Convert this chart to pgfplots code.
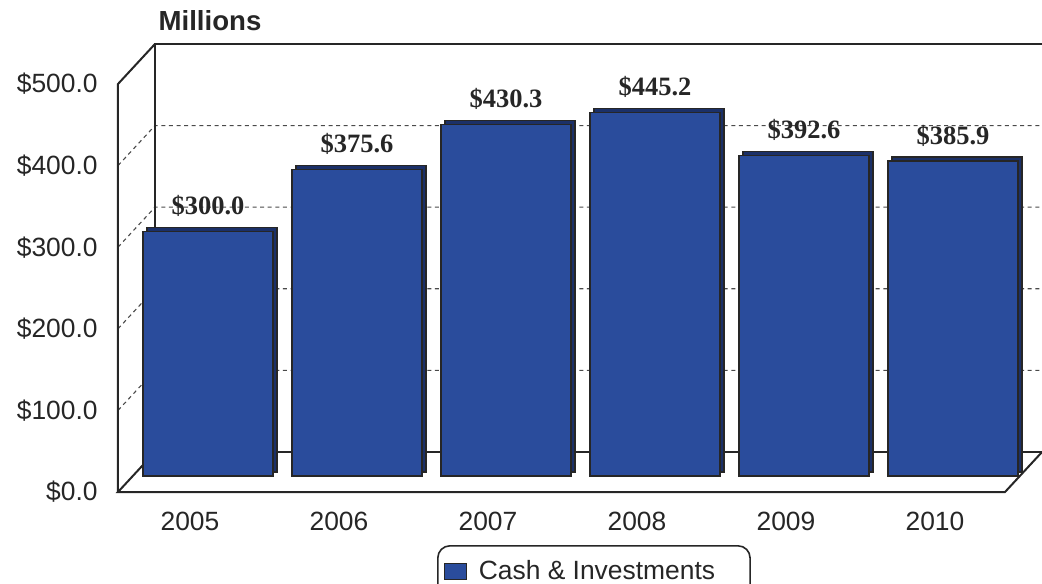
\documentclass[border=0pt]{standalone}
\usepackage{pgfplots}
\pgfplotsset{compat=1.18}
\usepackage{fontspec}
\setmainfont{Liberation Sans}
\newfontfamily\tnr{Liberation Serif}
\definecolor{barblue}{HTML}{2A4C9C}
\definecolor{bardark}{HTML}{1B3068}
\definecolor{framec}{HTML}{262626}
\definecolor{gridc}{HTML}{4A4A4A}
\begin{document}
\begin{tikzpicture}
\useasboundingbox (0,0) rectangle (521pt,291.5pt);
\clip (0,0) rectangle (521pt,291.5pt);
\pgfplotsset{
  common/.style={
    x=74.5pt, y=0.408pt,
    xmin=-0.4832, xmax=5.47, ymin=0, ymax=500,
    clip=false,
  }
}
% ---------- frame / walls / labels ----------
\begin{axis}[common,
  at={(59pt,45.5pt)}, anchor=south west,
  axis line style={draw=none}, tick style={draw=none},
  ytick={0,100,200,300,400,500},
  yticklabels={\$0.0,\$100.0,\$200.0,\$300.0,\$400.0,\$500.0},
  xtick={0,1,2,3,4,5},
  xticklabels={2005,2006,2007,2008,2009,2010},
  yticklabel style={inner sep=0pt, anchor=east, xshift=-10pt, font=\fontsize{13.2}{15}\selectfont, text=black!85},
  xticklabel style={inner sep=0pt, anchor=north, yshift=-10pt, font=\fontsize{13.2}{15}\selectfont, text=black!85},
  legend style={at={(axis cs:1.658,-65)}, anchor=north west, rounded corners=6pt,
    draw=framec, line width=0.8pt, font=\fontsize{13.2}{15}\selectfont, text=black!85,
    inner xsep=1.5pt, inner ysep=5.5pt},
]
\addlegendimage{legend image code/.code={\path[draw=none,fill=none] (0pt,0pt) -- (17pt,0pt);\draw[sharp corners,fill=barblue,draw=black!85,line width=0.5pt] (2pt,-4pt) rectangle (13pt,4pt);}}
\addlegendentry{Cash \& Investments\rule{14pt}{0pt}}
% dashed gridlines (side wall + back wall)
\foreach \v in {100,200,300,400}{
  \edef\temp{\noexpand\draw[gridc, line width=0.55pt, dash pattern=on 2pt off 1.8pt]
    (axis cs:-0.4832,\v) -- ([shift={(18.5pt,20pt)}]axis cs:-0.4832,\v) -- ([shift={(18.5pt,20pt)}]axis cs:5.7,\v);}
  \temp
}
% back wall and floor
\draw[framec, line width=1pt]
  ([shift={(18.5pt,20pt)}]axis cs:5.7,0) -- ([shift={(18.5pt,20pt)}]axis cs:-0.4832,0)
  -- ([shift={(18.5pt,20pt)}]axis cs:-0.4832,500) -- ([shift={(18.5pt,20pt)}]axis cs:5.7,500);
\draw[framec, line width=1pt]
  ([shift={(18.5pt,20pt)}]axis cs:-0.4832,0) -- (axis cs:-0.4832,0) -- (axis cs:5.47,0)
  -- ([shift={(18.5pt,20pt)}]axis cs:5.47,0);
\draw[framec, line width=1pt]
  (axis cs:-0.4832,0) -- (axis cs:-0.4832,500) -- ([shift={(18.5pt,20pt)}]axis cs:-0.4832,500);
\node[font=\bfseries\fontsize{13.8}{16}\selectfont, text=black!85] at (axis cs:0.134,578) {Millions};
\end{axis}
% ---------- bar depth (side/top faces) ----------
\begin{axis}[common, at={(70pt,55.5pt)}, anchor=south west, hide axis]
\addplot[ybar, bar width=65pt, fill=bardark, draw=framec, line width=0.6pt]
  coordinates {(0,300.0) (1,375.6) (2,430.3) (3,445.2) (4,392.6) (5,385.9)};
\end{axis}
% ---------- bar fronts ----------
\begin{axis}[common, at={(68pt,53.5pt)}, anchor=south west, hide axis]
\addplot[ybar, bar width=65pt, fill=barblue, draw=framec, line width=0.6pt,
  point meta=explicit symbolic,
  nodes near coords={\$\pgfplotspointmeta},
  every node near coord/.append style={anchor=base, inner sep=0pt, yshift=8.5pt,
    font=\tnr\bfseries\fontsize{13.25}{15}\selectfont, text=black!85}]
  coordinates {(0,300.0) [300.0] (1,375.6) [375.6] (2,430.3) [430.3] (3,445.2) [445.2] (4,392.6) [392.6] (5,385.9) [385.9]};
\end{axis}
\end{tikzpicture}
\end{document}
